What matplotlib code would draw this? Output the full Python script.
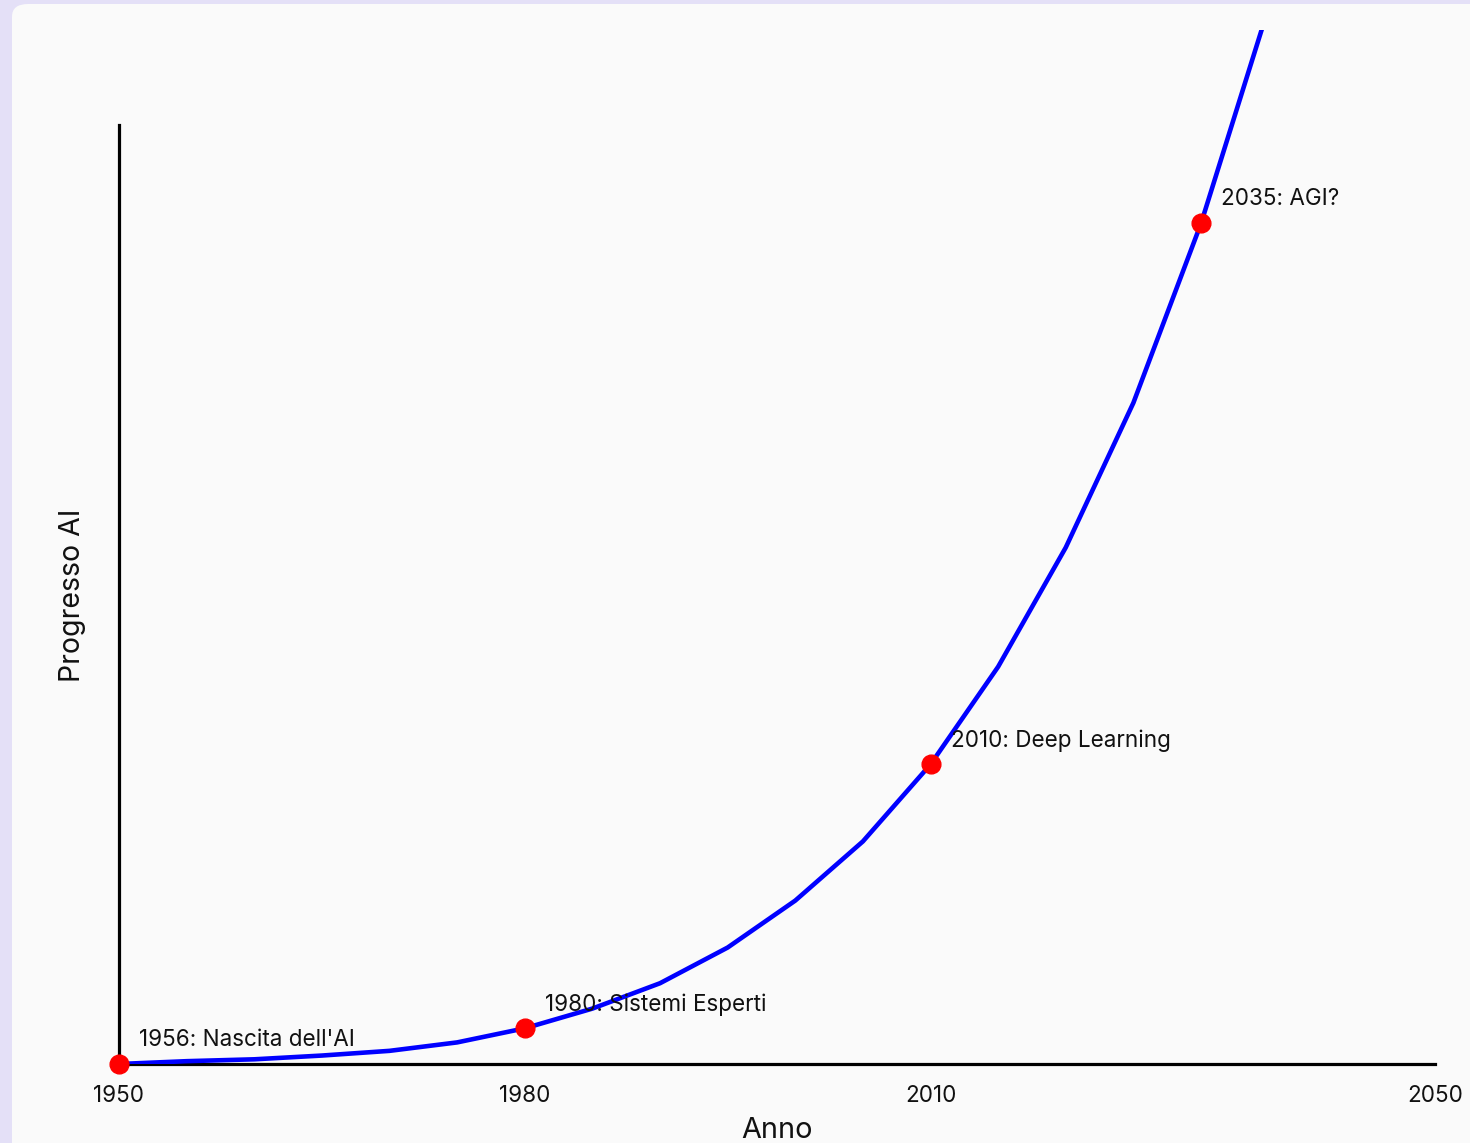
import matplotlib.pyplot as plt
from matplotlib.patches import FancyBboxPatch

# AI progress curve (arbitrary units)
years = [1950, 1955, 1960, 1965, 1970, 1975, 1980, 1985, 1990,
         1995, 2000, 2005, 2010, 2015, 2020, 2025, 2030, 2035]
progress = [0.0, 0.3, 0.5, 0.9, 1.4, 2.3, 3.8, 5.9, 8.6,
            12.4, 17.4, 23.7, 31.9, 42.3, 55.0, 70.4, 89.5, 112.5]

# milestones: (index into years, label)
milestone_idx = [0, 6, 12, 16]
milestone_labels = ["1956: Nascita dell'AI", "1980: Sistemi Esperti",
                    "2010: Deep Learning", "2035: AGI?"]

tick_labels = ["1950", "1980", "2010", "2050"]

plt.rcParams["font.family"] = ["Inter", "DejaVu Sans"]

fig = plt.figure(figsize=(14.7, 11.43), dpi=100)
fig.patch.set_facecolor("#e4e0f7")
card = FancyBboxPatch((12 / 1470, -0.1), 1.2, 1.1 - 4 / 1143,
                      boxstyle="round,pad=0,rounding_size=0.011",
                      transform=fig.transFigure, facecolor="#fafafa",
                      edgecolor="none", zorder=-5)
fig.add_artist(card)

ax = fig.add_axes([119 / 1470, 79 / 1143, 1316 / 1470, 1034 / 1143])
ax.set_facecolor("none")
ax.set_zorder(2)

x_right = 2047.3
y_top = 110.1
ax.set_xlim(1950, x_right)
ax.set_ylim(0, y_top)

ax.plot(years, progress, color="#0000ff", lw=3.3, zorder=3,
        solid_joinstyle="miter")
mx = [years[i] for i in milestone_idx]
my = [progress[i] for i in milestone_idx]
ax.plot(mx, my, "o", color="#ff0000", ms=13.5, zorder=4, clip_on=False)

for x, y, lab in zip(mx, my, milestone_labels):
    ax.annotate(lab, (x, y), xytext=(20, 24), textcoords="offset pixels",
                fontsize=16.2, color="#111111", va="center", ha="left",
                zorder=5)

for s in ["top", "right"]:
    ax.spines[s].set_visible(False)
ax.spines["left"].set_bounds(0, 100)
ax.spines["left"].set_linewidth(2.3)
ax.spines["bottom"].set_linewidth(2.3)
ax.spines["left"].set_zorder(2)
ax.spines["bottom"].set_zorder(2)

ax.set_xticks([1950, 1980, 2010, x_right])
ax.set_xticklabels(tick_labels, fontsize=16.2, color="#111111")
ax.tick_params(axis="x", length=0, pad=15)
ax.set_yticks([])

ax.text(0.5, -66 / 1034, "Anno", transform=ax.transAxes, ha="center",
        va="center", fontsize=20.8, color="#111111")
ax.text(-47 / 1316, (1064 - 595) / 1034, "Progresso AI", transform=ax.transAxes,
        ha="center", va="center", rotation=90, fontsize=20.5, color="#111111")

fig.savefig("out.png", dpi=100, facecolor=fig.get_facecolor())
